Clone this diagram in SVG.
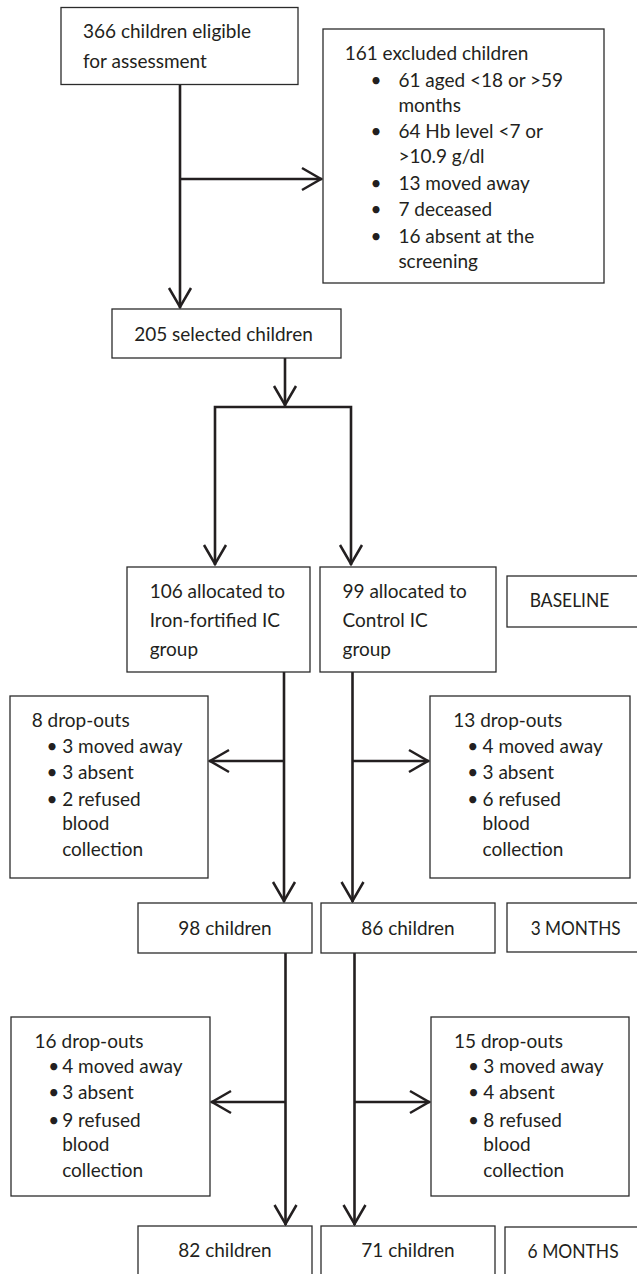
<svg xmlns="http://www.w3.org/2000/svg" width="637" height="1274" viewBox="0 0 637 1274">
<style>
.box{fill:#fff;stroke:#2b2b2b;stroke-width:1.3}
.t{font-family:Lato,"Open Sans","Liberation Sans",sans-serif;font-size:19px;fill:#231f20}
.m{text-anchor:middle}
.c{fill:none;stroke:#231f20;stroke-width:2.6}
.a{marker-end:url(#arr)}
</style>
<defs>
<marker id="arr" viewBox="-24 -14 28 28" refX="0" refY="0" markerWidth="28" markerHeight="28" markerUnits="userSpaceOnUse" orient="auto-start-reverse">
<path d="M-20,-11 L-1,0 L-20,11" fill="none" stroke="#231f20" stroke-width="2.5"/>
</marker>
</defs>
<rect width="637" height="1274" fill="#fff"/>
<g id="connectors">
<path class="c a" d="M180,85 V308"/>
<path class="c a" d="M180,179 H322"/>
<path class="c a" d="M285,358 V406"/>
<path class="c" d="M215,565 V407 H351 V565" marker-start="url(#arr)" marker-end="url(#arr)"/>
<path class="c a" d="M284,672 V902"/>
<path class="c a" d="M284,761 H209"/>
<path class="c a" d="M352.5,672 V902"/>
<path class="c a" d="M352.5,761 H429"/>
<path class="c a" d="M285.5,953 V1225"/>
<path class="c a" d="M285.5,1102 H211"/>
<path class="c a" d="M354.5,953 V1225"/>
<path class="c a" d="M354.5,1102 H430"/>
</g>
<g id="eligible">
<rect class="box" x="61" y="7.5" width="237" height="77"/>
<text class="t" x="83" y="38.3">366 children eligible</text>
<text class="t" x="83" y="68.3">for assessment</text>
</g>
<g id="excluded">
<rect class="box" x="323" y="29" width="281" height="254"/>
<text class="t" x="344.7" y="60">161 excluded children</text>
<text class="t m" x="376" y="87.3">•</text><text class="t" x="398.4" y="87.3">61 aged &lt;18 or &gt;59</text>
<text class="t" x="398.4" y="111.7">months</text>
<text class="t m" x="376" y="137.7">•</text><text class="t" x="398.4" y="137.7">64 Hb level &lt;7 or</text>
<text class="t" x="398.4" y="163.3">&gt;10.9 g/dl</text>
<text class="t m" x="376" y="190">•</text><text class="t" x="398.4" y="190">13 moved away</text>
<text class="t m" x="376" y="216">•</text><text class="t" x="398.4" y="216">7 deceased</text>
<text class="t m" x="376" y="242.7">•</text><text class="t" x="398.4" y="242.7">16 absent at the</text>
<text class="t" x="398.4" y="267.7">screening</text>
</g>
<g id="selected">
<rect class="box" x="112" y="309" width="229" height="49"/>
<text class="t" x="134.2" y="340.7">205 selected children</text>
</g>
<g id="iron">
<rect class="box" x="127" y="567" width="183" height="105"/>
<text class="t" x="149.7" y="597.7">106 allocated to</text>
<text class="t" x="149.7" y="627">Iron-fortified IC</text>
<text class="t" x="149.7" y="656">group</text>
</g>
<g id="control">
<rect class="box" x="320" y="567" width="176" height="105"/>
<text class="t" x="342.5" y="597.7">99 allocated to</text>
<text class="t" x="342.5" y="627">Control IC</text>
<text class="t" x="342.5" y="656">group</text>
</g>
<g id="baseline">
<rect class="box" x="507" y="576" width="140" height="51"/>
<text class="t" x="529.8" y="606.7" textLength="79.5" lengthAdjust="spacingAndGlyphs">BASELINE</text>
</g>
<g id="drop1">
<rect class="box" x="10" y="696" width="198" height="182"/>
<text class="t" x="31.7" y="726.7">8 drop-outs</text>
<text class="t m" x="52" y="753.3">•</text><text class="t" x="62.2" y="753.3">3 moved away</text>
<text class="t m" x="52" y="779.3">•</text><text class="t" x="62.2" y="779.3">3 absent</text>
<text class="t m" x="52" y="805.7">•</text><text class="t" x="62.2" y="805.7">2 refused</text>
<text class="t" x="62.2" y="830">blood</text>
<text class="t" x="62.2" y="856">collection</text>
</g>
<g id="drop2">
<rect class="box" x="430" y="696" width="200" height="182"/>
<text class="t" x="453.3" y="726.7">13 drop-outs</text>
<text class="t m" x="472.8" y="753.3">•</text><text class="t" x="482.5" y="753.3">4 moved away</text>
<text class="t m" x="472.8" y="779.3">•</text><text class="t" x="482.5" y="779.3">3 absent</text>
<text class="t m" x="472.8" y="805.7">•</text><text class="t" x="482.5" y="805.7">6 refused</text>
<text class="t" x="482.5" y="830">blood</text>
<text class="t" x="482.5" y="856">collection</text>
</g>
<g id="iron3">
<rect class="box" x="138" y="903" width="174" height="50"/>
<text class="t m" x="225" y="934.5">98 children</text>
</g>
<g id="control3">
<rect class="box" x="321" y="903" width="174" height="50"/>
<text class="t m" x="408" y="934.5">86 children</text>
</g>
<g id="months3">
<rect class="box" x="507" y="903" width="140" height="49"/>
<text class="t" x="530.7" y="934.5" textLength="90" lengthAdjust="spacingAndGlyphs">3 MONTHS</text>
</g>
<g id="drop3">
<rect class="box" x="11" y="1017" width="199" height="179"/>
<text class="t" x="34.6" y="1047.7">16 drop-outs</text>
<text class="t m" x="53.7" y="1073.3">•</text><text class="t" x="62.2" y="1073.3">4 moved away</text>
<text class="t m" x="53.7" y="1099.3">•</text><text class="t" x="62.2" y="1099.3">3 absent</text>
<text class="t m" x="53.7" y="1126.7">•</text><text class="t" x="62.2" y="1126.7">9 refused</text>
<text class="t" x="62.2" y="1150.7">blood</text>
<text class="t" x="62.2" y="1176.7">collection</text>
</g>
<g id="drop4">
<rect class="box" x="431" y="1017" width="198" height="179"/>
<text class="t" x="454" y="1047.7">15 drop-outs</text>
<text class="t m" x="473.6" y="1073.3">•</text><text class="t" x="483.3" y="1073.3">3 moved away</text>
<text class="t m" x="473.6" y="1099.3">•</text><text class="t" x="483.3" y="1099.3">4 absent</text>
<text class="t m" x="473.6" y="1126.7">•</text><text class="t" x="483.3" y="1126.7">8 refused</text>
<text class="t" x="483.3" y="1150.7">blood</text>
<text class="t" x="483.3" y="1176.7">collection</text>
</g>
<g id="iron6">
<rect class="box" x="138" y="1226" width="174" height="60"/>
<text class="t m" x="225" y="1257.3">82 children</text>
</g>
<g id="control6">
<rect class="box" x="321" y="1226" width="174" height="60"/>
<text class="t m" x="408" y="1257.3">71 children</text>
</g>
<g id="months6">
<rect class="box" x="505" y="1227" width="142" height="60"/>
<text class="t" x="527.6" y="1258" textLength="91" lengthAdjust="spacingAndGlyphs">6 MONTHS</text>
</g>
</svg>
